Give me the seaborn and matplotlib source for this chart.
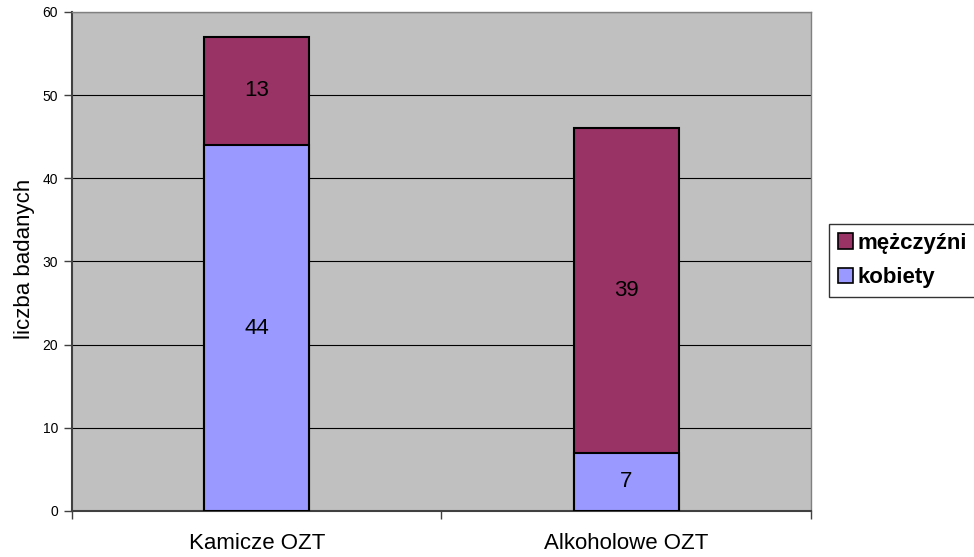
import matplotlib
matplotlib.use("Agg")
import matplotlib.pyplot as plt
import seaborn as sns
import pandas as pd
from matplotlib.patches import Patch

categories = ["Kamicze OZT", "Alkoholowe OZT"]
kobiety = [44, 7]
mezczyzni = [13, 39]
series_labels = ["mężczyźni", "kobiety"]
y_ticks = [0, 10, 20, 30, 40, 50, 60]

col_k = "#9999FF"
col_m = "#993366"

sns.set_theme(style="white")
plt.rcParams["font.family"] = ["Liberation Sans", "DejaVu Sans"]
plt.rcParams["text.color"] = "black"
plt.rcParams["axes.labelcolor"] = "black"
plt.rcParams["xtick.color"] = "black"
plt.rcParams["ytick.color"] = "black"

df = pd.DataFrame({
    "kategoria": categories,
    "kobiety": kobiety,
    "mezczyzni": mezczyzni,
})
df["razem"] = df["kobiety"] + df["mezczyzni"]

fig = plt.figure(figsize=(9.74, 5.57), dpi=100)
ax = fig.add_axes([0.0739, 0.0826, 0.7587, 0.8959])
ax.set_facecolor("#C0C0C0")
fig.patch.set_facecolor("white")

# Stacked bars: full total first, then the lower segment on top of it
sns.barplot(data=df, x="kategoria", y="razem", color=col_m, width=0.285,
            edgecolor="black", linewidth=1.5, saturation=1, ax=ax, zorder=3)
sns.barplot(data=df, x="kategoria", y="kobiety", color=col_k, width=0.285,
            edgecolor="black", linewidth=1.5, saturation=1, ax=ax, zorder=4)

# Segment value labels
for i, (k, m) in enumerate(zip(kobiety, mezczyzni)):
    ax.text(i, k / 2, str(k), ha="center", va="center", fontsize=16, color="black", zorder=5)
    ax.text(i, k + m / 2, str(m), ha="center", va="center", fontsize=16, color="black", zorder=5)

ax.set_xlim(-0.5, 1.5)
ax.set_ylim(0, 60)
ax.set_yticks(y_ticks)
ax.set_yticklabels([str(v) for v in y_ticks], fontsize=10)
ax.yaxis.grid(True, color="black", linewidth=0.8)
ax.set_axisbelow(True)

# Category ticks sit on the boundaries between groups
ax.set_xticks([-0.5, 0.5, 1.5], minor=False)
ax.set_xticklabels([])
ax.set_xticks([0, 1], minor=True)
ax.set_xticklabels(categories, minor=True, fontsize=16)
ax.tick_params(axis="x", which="minor", length=0, pad=16)
ax.tick_params(axis="x", which="major", length=6, width=1, color="#404040", direction="out", bottom=True)
ax.tick_params(axis="y", length=6, width=1, color="#404040", direction="out", left=True, pad=4)

ax.set_xlabel("")
ax.set_ylabel("liczba badanych", fontsize=16)
ax.yaxis.set_label_coords(-0.050, 0.505)

for side in ["top", "right"]:
    ax.spines[side].set_color("#808080")
    ax.spines[side].set_linewidth(1)
for side in ["left", "bottom"]:
    ax.spines[side].set_color("#404040")
    ax.spines[side].set_linewidth(1.5)

handles = [Patch(facecolor=col_m, edgecolor="black", linewidth=1.2),
           Patch(facecolor=col_k, edgecolor="black", linewidth=1.2)]
leg = fig.legend(handles, series_labels, loc="upper left",
                 bbox_to_anchor=(829 / 974, 1 - 224 / 557),
                 prop={"weight": "bold", "size": 16},
                 frameon=True, fancybox=False, edgecolor="black",
                 handlelength=0.7, handleheight=0.7, handletextpad=0.2,
                 borderpad=0.4, labelspacing=0.6, borderaxespad=0)
leg.get_frame().set_linewidth(1)

fig.savefig("out.png", dpi=100)
